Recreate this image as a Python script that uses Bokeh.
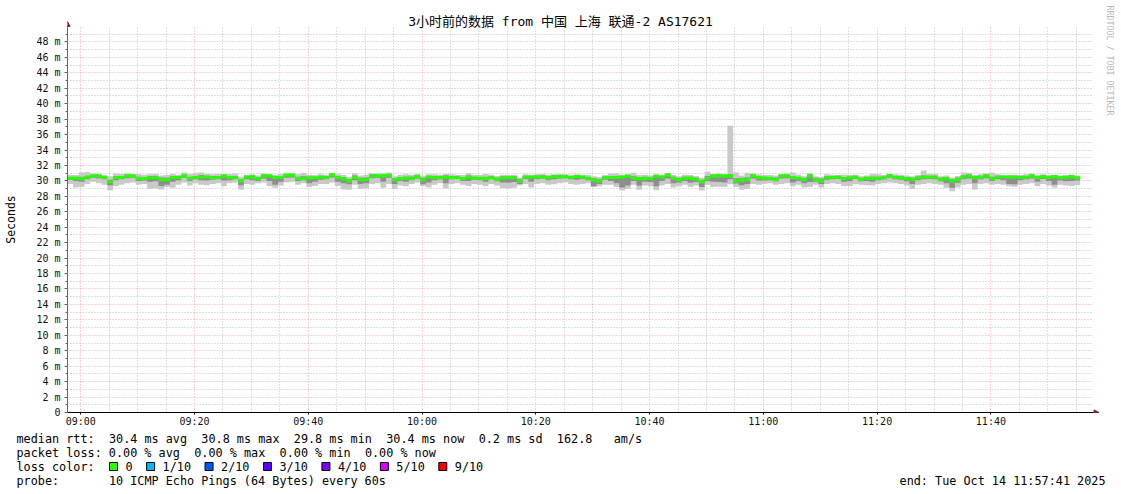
import re
from datetime import datetime
import numpy as np
from bokeh.plotting import figure
from bokeh.layouts import column, row
from bokeh.models import (Range1d, FixedTicker, CustomJSTickFormatter, Label,
                          Arrow, NormalHead, Grid)
from bokeh.embed import file_html
from bokeh.resources import INLINE

# ---------------- data ----------------
START = "2025-10-14 08:57:41"
END = "2025-10-14 11:57:41"
STEP_MIN = 1

median = [
    30.35, 30.35, 30.3, 30.5, 30.65, 30.65, 30.45, 29.9, 30.45, 30.45,
    30.65, 30.65, 30.3, 30.3, 30.4, 30.4, 30.15, 30.15, 30.45, 30.45,
    30.65, 30.3, 30.45, 30.5, 30.5, 30.45, 30.45, 30.65, 30.45, 30.45,
    30.0, 30.5, 30.5, 30.3, 30.65, 30.65, 30.45, 30.45, 30.75, 30.75,
    30.3, 30.3, 30.4, 30.4, 30.5,
    30.45, 30.78, 30.45, 30.3, 30.0, 30.45, 30.15, 30.2, 30.65, 30.65,
    30.65, 30.73, 30.15, 30.3, 30.35, 30.35, 30.55, 30.15, 30.5, 30.4,
    30.4, 30.5, 30.45, 30.45, 30.3, 30.5, 30.35, 30.35, 30.3, 30.45,
    30.2, 30.4, 30.4, 30.4, 29.95, 30.5, 30.5, 30.5, 30.5, 30.4,
    30.55, 30.55, 30.55, 30.45, 30.55,
    30.5, 30.35, 30.1, 29.95, 30.43, 30.43, 30.43, 30.5, 30.6, 30.35,
    30.3, 30.3, 30.3, 30.6, 30.5, 30.78, 30.35, 30.17, 30.35, 30.35,
    30.2, 29.87, 30.35, 30.65, 30.65, 30.65, 30.65, 30.0, 30.13, 30.2,
    30.65, 30.43, 30.35, 30.35, 30.2, 30.65, 30.65, 30.43, 30.35, 30.17,
    30.65, 30.17, 30.0, 30.43, 30.43,
    30.5, 30.3, 30.4, 30.5, 30.2, 30.35, 30.35, 30.35, 30.4, 30.7,
    30.47, 30.43, 30.3, 30.2, 30.4, 30.5, 30.5, 30.5, 30.2, 30.3,
    30.0, 30.2, 30.5, 30.65, 30.43, 30.5, 30.65, 30.3, 30.5, 30.5,
    30.5, 30.5, 30.43, 30.5, 30.65, 30.43, 30.55, 30.43, 30.55, 30.4,
    30.47, 30.55, 30.4,
]

ping_min = [
    29.6, 29.15, 29.2, 29.6, 29.9, 29.7, 29.5, 28.8, 29.3, 29.5,
    29.7, 29.8, 29.5, 29.6, 28.95, 29.0, 28.9, 29.2, 29.1, 29.5,
    29.8, 29.4, 29.7, 29.5, 29.45, 29.6, 29.7, 29.3, 29.7, 29.8,
    28.85, 29.6, 29.5, 29.7, 29.8, 29.3, 29.1, 29.4, 29.8, 29.9,
    29.5, 29.7, 29.2, 29.35, 29.6,
    29.6, 29.8, 29.35, 28.9, 28.85, 29.5, 28.95, 29.0, 29.6, 29.7,
    29.1, 29.6, 28.95, 29.4, 29.3, 29.6, 29.8, 29.35, 29.15, 29.5,
    29.7, 29.0, 29.6, 29.7, 29.5, 29.35, 29.6, 29.5, 29.3, 29.6,
    29.4, 29.05, 29.0, 29.1, 29.4, 29.6, 29.15, 29.6, 29.7, 29.5,
    29.55, 29.7, 29.8, 29.6, 29.5,
    29.6, 29.7, 29.2, 29.3, 29.5, 29.5, 29.2, 28.75, 28.95, 29.5,
    28.85, 29.4, 29.3, 28.8, 29.4, 29.6, 29.15, 29.3, 29.5, 29.2,
    29.4, 28.75, 29.5, 29.2, 29.25, 29.2, 29.55, 29.2, 28.85, 28.95,
    29.6, 29.5, 29.6, 29.7, 29.5, 29.6, 29.7, 29.3, 29.5, 29.15,
    29.2, 29.5, 29.15, 29.6, 29.7,
    29.6, 29.3, 29.35, 29.6, 29.5, 29.45, 29.4, 29.6, 29.7, 29.8,
    29.7, 29.6, 29.4, 28.95, 29.5, 29.6, 29.7, 29.6, 29.5, 29.1,
    28.65, 29.15, 29.5, 29.6, 28.9, 29.6, 29.7, 29.5, 29.6, 29.5,
    29.3, 29.25, 29.5, 29.6, 29.7, 29.3, 29.6, 29.4, 29.15, 29.5,
    29.4, 29.35, 29.45,
]

ping_max = [
    30.8, 30.75, 31.1, 31.15, 30.95, 30.9, 30.8, 30.6, 30.95, 30.9,
    30.95, 30.85, 30.9, 30.8, 30.85, 30.9, 30.7, 30.75, 30.9, 30.8,
    31.1, 30.9, 31.0, 31.1, 30.9, 30.85, 30.9, 30.85, 30.9, 30.95,
    30.55, 30.8, 30.85, 30.7, 30.95, 30.85, 30.8, 30.9, 31.0, 30.95,
    30.85, 31.05, 30.8, 30.75, 30.85,
    30.8, 31.05, 30.85, 30.75, 30.55, 31.0, 30.7, 30.8, 31.0, 30.95,
    31.0, 31.1, 30.6, 30.8, 30.85, 30.8, 30.9, 30.65, 30.85, 30.85,
    30.8, 30.9, 30.85, 30.8, 30.75, 31.0, 30.8, 30.75, 30.9, 30.8,
    30.65, 30.8, 30.75, 30.8, 30.45, 30.85, 30.8, 30.85, 30.9, 30.8,
    30.85, 30.9, 30.85, 30.8, 30.85,
    30.8, 30.75, 30.6, 30.5, 30.75, 30.95, 30.95, 30.8, 30.9, 31.05,
    30.75, 30.8, 30.7, 30.85, 30.8, 30.95, 30.75, 30.6, 30.8, 30.75,
    30.65, 30.4, 31.2, 30.9, 30.95, 30.9, 37.15, 31.1, 30.7, 31.05,
    30.95, 30.85, 30.8, 30.75, 30.7, 30.9, 30.95, 31.1, 30.8, 30.6,
    31.0, 30.6, 30.55, 30.85, 30.8,
    30.75, 30.8, 30.75, 30.8, 30.6, 30.7, 30.9, 30.85, 30.75, 30.9,
    30.85, 30.8, 30.7, 30.6, 30.75, 31.35, 30.9, 30.9, 30.6, 30.7,
    30.45, 30.65, 31.1, 31.05, 30.75, 30.85, 30.95, 31.05, 30.85, 30.8,
    30.75, 30.8, 30.75, 30.85, 30.95, 30.8, 30.85, 30.75, 30.8, 30.7,
    30.75, 30.8, 30.7,
]

inner_lo = [
    30.15, 30.0, 29.9, 30.2, 30.4, 30.35, 30.2, 29.45, 30.1, 30.2,
    30.35, 30.4, 30.0, 30.05, 29.9, 29.95, 29.35, 29.5, 29.9, 30.1,
    30.4, 30.0, 30.2, 30.1, 30.05, 30.15, 30.2, 30.05, 30.1, 30.2,
    29.45, 30.2, 30.1, 30.0, 30.3, 30.0, 29.5, 29.9, 30.4, 30.45,
    30.0, 30.1, 29.7, 29.9, 30.15,
    30.2, 30.45, 29.9, 29.7, 29.55, 30.1, 29.6, 29.7, 30.35, 30.4,
    29.9, 30.4, 29.6, 30.0, 29.9, 30.1, 30.3, 29.55, 29.8, 30.1,
    30.2, 29.7, 30.2, 30.25, 30.0, 30.0, 30.15, 30.1, 29.9, 30.2,
    29.95, 29.8, 29.75, 29.85, 29.6, 30.25, 29.9, 30.2, 30.3, 30.1,
    30.2, 30.3, 30.35, 30.2, 30.15,
    30.25, 30.1, 29.3, 29.6, 30.15, 30.0, 29.7, 29.15, 29.4, 30.0,
    29.4, 29.9, 29.85, 29.3, 30.0, 30.3, 29.7, 29.8, 30.0, 29.75,
    29.85, 29.2, 30.0, 29.9, 29.85, 29.8, 30.2, 29.65, 29.45, 29.6,
    30.3, 30.05, 30.05, 30.1, 29.95, 30.3, 30.35, 29.8, 30.0, 29.7,
    29.85, 29.9, 29.6, 30.15, 30.2,
    30.25, 29.9, 29.95, 30.25, 29.95, 30.0, 29.9, 30.1, 30.2, 30.4,
    30.2, 30.15, 29.95, 29.6, 30.1, 30.2, 30.25, 30.2, 29.95, 29.7,
    29.1, 29.75, 30.2, 30.3, 29.7, 30.2, 30.35, 30.0, 30.2, 30.1,
    29.6, 29.55, 30.1, 30.2, 30.3, 29.9, 30.25, 30.0, 29.5, 30.05,
    29.95, 30.0, 30.05,
]

inner_hi = [
    30.5, 30.45, 30.55, 30.65, 30.75, 30.75, 30.6, 30.15, 30.65, 30.6,
    30.8, 30.7, 30.55, 30.5, 30.6, 30.6, 30.45, 30.4, 30.6, 30.6,
    30.8, 30.55, 30.65, 30.75, 30.65, 30.6, 30.65, 30.75, 30.6, 30.6,
    30.25, 30.65, 30.7, 30.5, 30.8, 30.75, 30.6, 30.65, 30.85, 30.85,
    30.55, 30.6, 30.55, 30.55, 30.65,
    30.6, 30.9, 30.6, 30.5, 30.25, 30.7, 30.4, 30.45, 30.8, 30.8,
    30.8, 30.9, 30.35, 30.5, 30.55, 30.55, 30.7, 30.4, 30.65, 30.6,
    30.6, 30.7, 30.6, 30.6, 30.5, 30.7, 30.55, 30.5, 30.55, 30.6,
    30.4, 30.6, 30.55, 30.6, 30.2, 30.65, 30.65, 30.7, 30.7, 30.6,
    30.7, 30.7, 30.7, 30.6, 30.65,
    30.65, 30.5, 30.35, 30.2, 30.6, 30.65, 30.65, 30.65, 30.75, 30.6,
    30.5, 30.55, 30.5, 30.75, 30.65, 30.85, 30.55, 30.4, 30.55, 30.55,
    30.4, 30.15, 30.65, 30.8, 30.8, 30.75, 30.85, 30.35, 30.4, 30.45,
    30.8, 30.6, 30.55, 30.5, 30.4, 30.75, 30.75, 30.65, 30.5, 30.4,
    30.8, 30.4, 30.3, 30.6, 30.6,
    30.65, 30.5, 30.55, 30.65, 30.4, 30.5, 30.55, 30.55, 30.55, 30.8,
    30.65, 30.6, 30.5, 30.4, 30.55, 30.7, 30.65, 30.65, 30.4, 30.5,
    30.25, 30.4, 30.7, 30.8, 30.6, 30.65, 30.8, 30.55, 30.65, 30.65,
    30.65, 30.65, 30.6, 30.65, 30.8, 30.6, 30.7, 30.6, 30.7, 30.55,
    30.6, 30.7, 30.55,
]

y_ticks = list(range(0, 50, 2))
y_minor_ticks = list(range(1, 50, 2))
Y_TOP = 50
x_tick_times = ["09:00", "09:20", "09:40", "10:00", "10:20", "10:40",
                "11:00", "11:20", "11:40"]
x_minor_times = ["09:05", "09:10", "09:15", "09:25", "09:30", "09:35",
                 "09:45", "09:50", "09:55", "10:05", "10:10", "10:15",
                 "10:25", "10:30", "10:35", "10:45", "10:50", "10:55",
                 "11:05", "11:10", "11:15", "11:25", "11:30", "11:35",
                 "11:45", "11:50", "11:55"]

title_text = "3小时前的数据 from 中国 上海 联通-2 AS17621"
y_label_text = "Seconds"
legend_lines = [
    "median rtt:  30.4 ms avg  30.8 ms max  29.8 ms min  30.4 ms now  0.2 ms sd  162.8   am/s",
    "packet loss: 0.00 % avg  0.00 % max  0.00 % min  0.00 % now",
    "loss color:",
    "probe:       10 ICMP Echo Pings (64 Bytes) every 60s",
]
loss_labels = ["0", "1/10", "2/10", "3/10", "4/10", "5/10", "9/10"]
loss_colors = ["#26ff00", "#00b8ff", "#0059ff", "#5e00ff", "#7e00ff", "#dd00ff", "#ff0000"]
end_text = "end: Tue Oct 14 11:57:41 2025"
side_text = "RRDTOOL / TOBI OETIKER"

# ---------------- geometry (page pixels) ----------------
W = 1121
H = 494
SIDE_W = 20           # strip holding the rotated "Seconds"
H_MAIN = 430
H_LEG = H - H_MAIN
FRAME_L = 67          # data area left (page x)
FRAME_B = 412         # y = 0 line (page y)
DATA_R = 1091         # end time
GRID_R = 1093
GRID_T = 26           # y = 50 line
PX_PER_MIN = (DATA_R - FRAME_L) / 180.0
PX_PER_MS = (FRAME_B - GRID_T) / 50.0

EPOCH = datetime(1970, 1, 1)


def to_ms(s):
    return (datetime.strptime(s, "%Y-%m-%d %H:%M:%S") - EPOCH).total_seconds() * 1000.0


t0 = to_ms(START)
t1 = to_ms(END)
DAY = START[:10]


def px_t(px):
    return t0 + (px - FRAME_L) / PX_PER_MIN * 60000.0


def py_v(py):
    return (FRAME_B - py) / PX_PER_MS


n = len(median)
edges = [t0 + i * STEP_MIN * 60000.0 for i in range(n + 1)]


def ext(a):
    return list(a) + [a[-1]]


med = np.array(median)
HALF = 0.2
MONO = "DejaVu Sans Mono"


def no_align(fig):
    if "frame_align" in fig.properties():
        fig.frame_align = False


def blank_fig(width, height, x0, x1, y0, y1):
    f = figure(width=width, height=height, x_range=Range1d(x0, x1), y_range=Range1d(y0, y1),
               output_backend="svg", toolbar_location=None, title=None,
               x_axis_location=None, y_axis_location=None, min_border=0)
    f.grid.visible = False
    f.outline_line_color = None
    f.background_fill_color = "white"
    f.border_fill_color = "white"
    no_align(f)
    return f


# ---------------- main figure ----------------
p = figure(width=W - SIDE_W, height=H_MAIN,
           x_range=Range1d(t0, px_t(W)), y_range=Range1d(0, py_v(0)),
           output_backend="svg", toolbar_location=None, title=None,
           min_border_left=FRAME_L - SIDE_W, min_border_right=0, min_border_top=0,
           min_border_bottom=H_MAIN - FRAME_B)
no_align(p)
p.background_fill_color = "white"
p.border_fill_color = "white"
p.outline_line_color = None

xt = FixedTicker(ticks=[to_ms(f"{DAY} {t}:00") for t in x_tick_times],
                 minor_ticks=[to_ms(f"{DAY} {t}:00") for t in x_minor_times])
yt = FixedTicker(ticks=y_ticks, minor_ticks=y_minor_ticks)
p.xaxis.ticker = xt
p.yaxis.ticker = yt
p.xgrid.ticker = xt
p.ygrid.ticker = yt
p.xaxis.bounds = (t0, px_t(GRID_R))
p.yaxis.bounds = (0, Y_TOP)

p.xaxis.formatter = CustomJSTickFormatter(code="""
const d = new Date(tick);
const h = String(d.getUTCHours()).padStart(2, '0');
const m = String(d.getUTCMinutes()).padStart(2, '0');
return h + ':' + m;
""")
p.yaxis.formatter = CustomJSTickFormatter(code="return tick == 0 ? '0' : tick + ' m';")

for ax in (p.xaxis, p.yaxis):
    ax.major_label_text_font = MONO
    ax.major_label_text_font_size = "10px"
    ax.major_label_text_color = "#111111"

p.xaxis.axis_line_color = "black"
p.xaxis.major_tick_line_color = "black"
p.xaxis.major_tick_out = 2
p.xaxis.major_tick_in = 0
p.xaxis.minor_tick_line_color = None
p.xaxis.major_label_standoff = -1

p.yaxis.axis_line_color = "#666666"
p.yaxis.major_tick_line_color = "#666666"
p.yaxis.minor_tick_line_color = "#666666"
p.yaxis.major_tick_out = 3
p.yaxis.major_tick_in = 0
p.yaxis.minor_tick_out = 2
p.yaxis.minor_tick_in = 0
p.yaxis.major_label_standoff = 4

has_cross = "cross_bounds" in Grid.properties()
for g in (p.xgrid, p.ygrid):
    g.grid_line_color = "#ff0000"
    g.grid_line_alpha = 0.35
    g.grid_line_dash = "1 2"
    g.minor_grid_line_color = "#b0b0b0"
    g.minor_grid_line_alpha = 0.8
    g.minor_grid_line_dash = "1 2"
if has_cross:
    p.xgrid.cross_bounds = (0, Y_TOP)
    p.ygrid.cross_bounds = (t0, px_t(GRID_R))
else:
    for g in (p.xgrid, p.ygrid):
        g.visible = False
    xs_maj = xt.ticks
    xs_min = xt.minor_ticks
    p.segment(x0=xs_min, x1=xs_min, y0=[0] * len(xs_min), y1=[Y_TOP] * len(xs_min),
              line_color="#b0b0b0", line_alpha=0.8, line_dash="1 2")
    p.segment(x0=xs_maj, x1=xs_maj, y0=[0] * len(xs_maj), y1=[Y_TOP] * len(xs_maj),
              line_color="#ff0000", line_alpha=0.35, line_dash="1 2")
    p.segment(x0=[t0] * len(y_minor_ticks), x1=[px_t(GRID_R)] * len(y_minor_ticks),
              y0=y_minor_ticks, y1=y_minor_ticks,
              line_color="#b0b0b0", line_alpha=0.8, line_dash="1 2")
    p.segment(x0=[t0] * len(y_ticks), x1=[px_t(GRID_R)] * len(y_ticks),
              y0=y_ticks, y1=y_ticks,
              line_color="#ff0000", line_alpha=0.35, line_dash="1 2")

# smoke
p.varea_step(x=edges, y1=ext(ping_min), y2=ext(ping_max), step_mode="after",
             fill_color="#c9c9c9")
p.varea_step(x=edges, y1=ext(inner_lo), y2=ext(inner_hi), step_mode="after",
             fill_color="#8e8e8e")
# median (loss colour 0)
p.varea_step(x=edges, y1=ext(med - HALF), y2=ext(med + HALF), step_mode="after",
             fill_color=loss_colors[0])

# axis arrow heads
p.add_layout(Arrow(x_start=px_t(GRID_R), y_start=0, x_end=px_t(1098.5), y_end=0,
                   line_color="black", line_width=1,
                   end=NormalHead(size=5, fill_color="#8b1a1a", line_color="#8b1a1a")))
p.add_layout(Arrow(x_start=t0, y_start=Y_TOP, x_end=t0, y_end=py_v(21),
                   line_color="#666666", line_width=1,
                   end=NormalHead(size=5, fill_color="#8b1a1a", line_color="#8b1a1a")))

# title and watermark (inside the frame, screen units from frame bottom-left)
p.add_layout(Label(x=560 - FRAME_L, y=FRAME_B - 21, x_units="screen", y_units="screen",
                   text=title_text, text_font="DejaVu Sans Mono, Noto Sans CJK SC",
                   text_font_size="13px", text_align="center", text_baseline="middle",
                   text_color="black"))
p.add_layout(Label(x=1109 - FRAME_L, y=FRAME_B - 60, x_units="screen", y_units="screen",
                   text=side_text, text_font=MONO, text_font_size="8.3px",
                   angle=-np.pi / 2, text_align="center", text_baseline="middle",
                   text_color="#b8b8b8"))

# ---------------- side strip with the y-axis title ----------------
s = blank_fig(SIDE_W, H_MAIN, 0, SIDE_W, H_MAIN, 0)
s.add_layout(Label(x=10.5, y=219, text=y_label_text, text_font=MONO,
                   text_font_size="11.5px", angle=np.pi / 2, text_align="center",
                   text_baseline="middle", text_color="black"))

# ---------------- legend figure (page coordinates) ----------------
q = blank_fig(W, H_LEG, 0, W, H, H_MAIN)

CHAR_W = 7.11
COL0 = 16
line_y = [438, 452, 466, 480]
for line, yy in zip(legend_lines, line_y):
    for m in re.finditer(r"\S+(?: \S+)*", line):
        q.add_layout(Label(x=COL0 + m.start() * CHAR_W, y=yy, text=m.group(0),
                           text_font=MONO, text_font_size="11.8px",
                           text_align="left", text_baseline="middle", text_color="black"))

bx = 109.0
box_l, box_r, lab_x = [], [], []
for lab in loss_labels:
    box_l.append(bx)
    box_r.append(bx + 8)
    lab_x.append(bx + 16)
    bx = bx + 16 + len(lab) * CHAR_W + 14
q.quad(left=box_l, right=box_r, top=[462] * len(box_l), bottom=[470] * len(box_l),
       fill_color=loss_colors, line_color="black", line_width=1)
for lab, lx in zip(loss_labels, lab_x):
    q.add_layout(Label(x=lx, y=466, text=lab, text_font=MONO,
                       text_font_size="11.8px", text_align="left",
                       text_baseline="middle", text_color="black"))

q.add_layout(Label(x=1105, y=480, text=end_text, text_font=MONO,
                   text_font_size="11.8px", text_align="right",
                   text_baseline="middle", text_color="black"))

layout = column(row(s, p, spacing=0), q, spacing=0)
open("out.html", "w").write(file_html(layout, INLINE))
